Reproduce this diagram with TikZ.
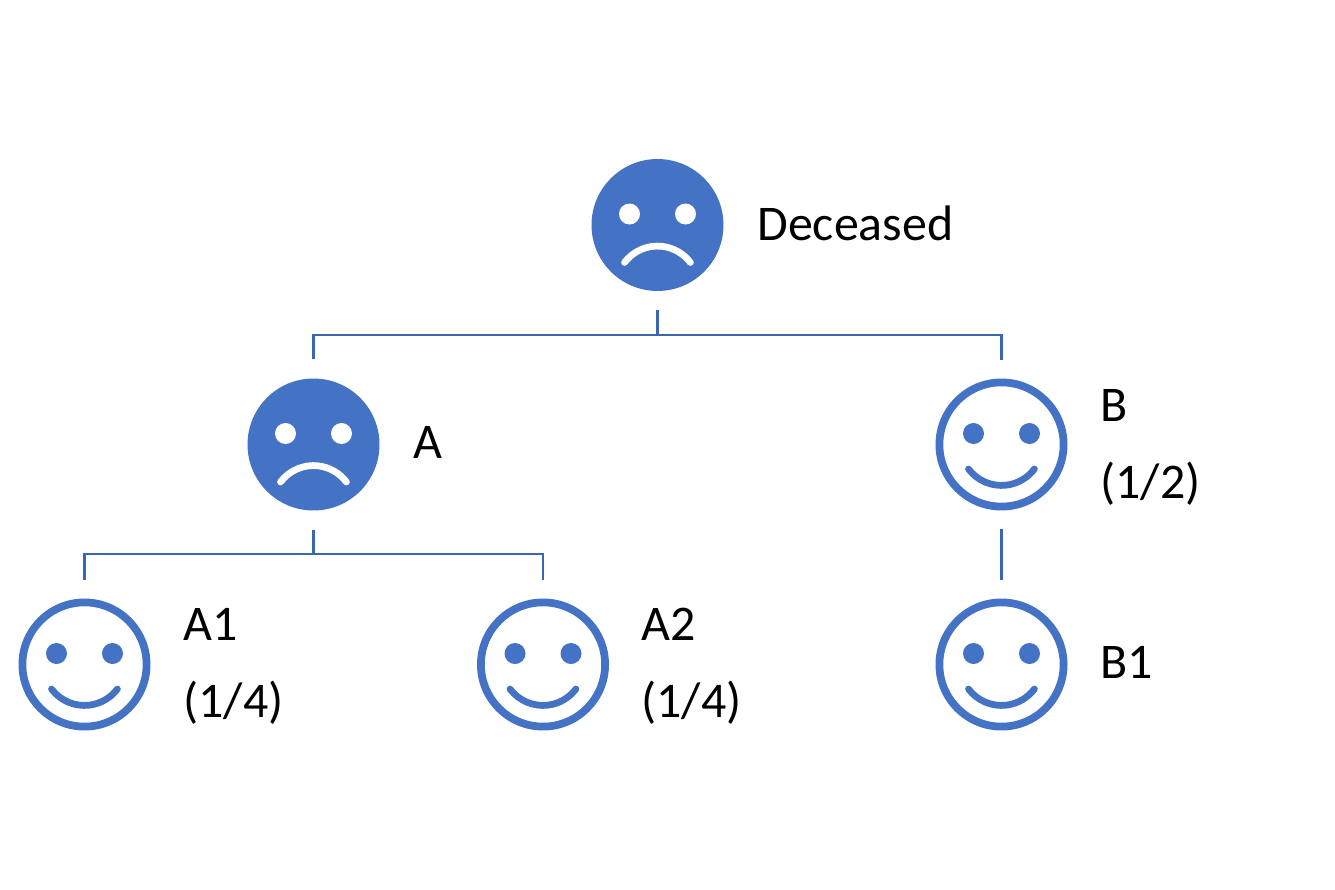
\documentclass[tikz,border=0pt]{standalone}
\usepackage{fontspec}
\setmainfont{Carlito}
\definecolor{faceblue}{HTML}{4472C4}
\definecolor{linkblue}{HTML}{3A66B2}
\tikzset{
  link/.style={draw=linkblue, line width=1.6pt, shorten <=0.38cm, shorten >=0.38cm},
  deadface/.style={circle, fill=faceblue, inner sep=0, minimum size=2.64cm},
  liveface/.style={circle, draw=faceblue, line width=0.155cm, fill=white, inner sep=0, minimum size=2.485cm},
  mouth/.style={line width=0.135cm, line cap=round},
  label/.style={anchor=base west, inner sep=0, font=\fontsize{28.4}{34}\selectfont}
}
% eyes and mouth go on top of a face node
\newcommand{\sadparts}[1]{
  \begin{scope}[shift={(#1)}]
    \fill[white] (-28,-11) circle (10.5);
    \fill[white] (28,-11) circle (10.5);
    \draw[white, mouth] (-33,37.5) arc[start angle=217, end angle=323, radius=41.25];
  \end{scope}
}
\newcommand{\happyparts}[1]{
  \begin{scope}[shift={(#1)}]
    \fill[faceblue] (-28,-11) circle (10.5);
    \fill[faceblue] (28,-11) circle (10.5);
    \draw[faceblue, mouth] (-33,24.5) arc[start angle=143, end angle=37, radius=41.25];
  \end{scope}
}
\begin{document}
\begin{tikzpicture}[x=0.02cm, y=-0.02cm]
\useasboundingbox (0,0) rectangle (1335,889);
% faces
\node[deadface] (dec) at (657.5,225) {};
\node[deadface] (a) at (313.5,444.5) {};
\node[liveface] (b) at (1001.5,444.5) {};
\node[liveface] (a1) at (84.5,664.5) {};
\node[liveface] (a2) at (543,664.5) {};
\node[liveface] (b1) at (1001.5,664.5) {};
\sadparts{dec}
\sadparts{a}
\happyparts{b}
\happyparts{a1}
\happyparts{a2}
\happyparts{b1}
% labels
\node[label] (ldec) at (757,240) {Deceased};
\node[label] (la) at (413,458) {A};
\node[label] (lb) at (1100,421) {B};
\node[label] (lbshare) at (1100,498) {(1/2)};
\node[label] (la1) at (183,640) {A1};
\node[label] (la1share) at (183,717) {(1/4)};
\node[label] (la2) at (641,640) {A2};
\node[label] (la2share) at (641,717) {(1/4)};
\node[label] (lb1) at (1100,678) {B1};
% family lines
\coordinate (topbus) at (657.5,335);
\coordinate (lowbus) at (313.5,554);
\draw[link, shorten >=0] (dec.south) -- (topbus);
\draw[link] (a.north) |- (topbus) -| (b.north);
\draw[link, shorten >=0] (a.south) -- (lowbus);
\draw[link] (a1.north) |- (lowbus) -| (a2.north);
\draw[link] (b.south) -- (b1.north);
\end{tikzpicture}
\end{document}
